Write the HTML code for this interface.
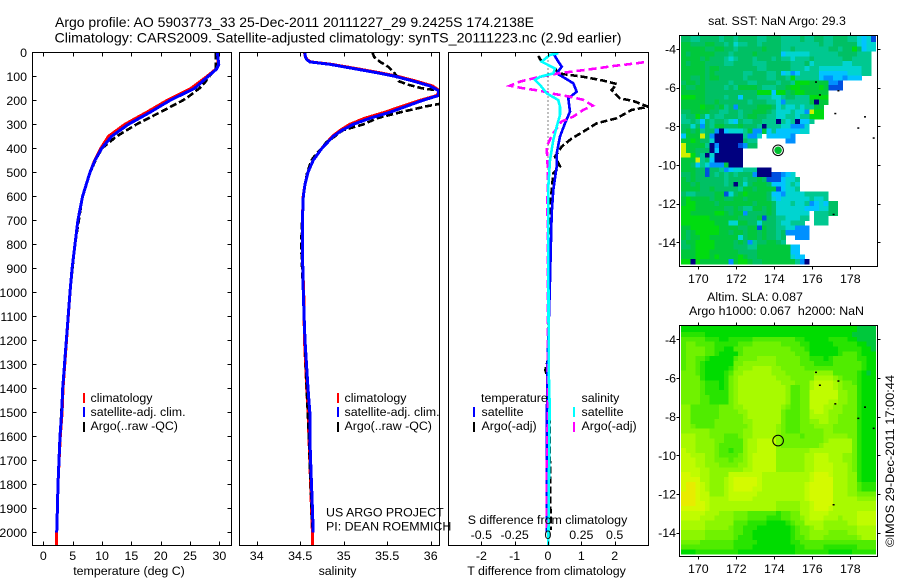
<!DOCTYPE html>
<html>
<head>
<meta charset="utf-8">
<title>Argo profile</title>
<style>
html,body{margin:0;padding:0;background:#fff;}
svg{display:block;}
text{font-family:"Liberation Sans",sans-serif;font-size:12.4px;fill:#000;}
.title{font-size:14px;}
</style>
</head>
<body>
<svg id="chart" width="900" height="580" viewBox="0 0 900 580" xmlns="http://www.w3.org/2000/svg">
<rect width="900" height="580" fill="#fff"/>
<defs>
<clipPath id="clipT"><rect x="32.5" y="52" width="199" height="493.5"/></clipPath>
<clipPath id="clipS"><rect x="239.5" y="52" width="200" height="493.5"/></clipPath>
<clipPath id="clipD"><rect x="448.5" y="52" width="200" height="493.5"/></clipPath>
<clipPath id="clipM1"><rect x="679.5" y="35" width="198" height="232"/></clipPath>
<clipPath id="clipM2"><rect x="679.5" y="325" width="198" height="232"/></clipPath>
</defs>
<text class="title" x="55" y="27" textLength="479" lengthAdjust="spacingAndGlyphs">Argo profile: AO 5903773_33 25-Dec-2011 20111227_29 9.2425S 174.2138E</text>
<text class="title" x="54.5" y="42.5" textLength="567" lengthAdjust="spacingAndGlyphs">Climatology: CARS2009. Satellite-adjusted climatology: synTS_20111223.nc (2.9d earlier)</text>
<g id="layer-maps"></g>
<g id="layer-profiles"></g>
<g id="layer-axes"></g>

<text x="777" y="25" text-anchor="middle">sat. SST: NaN  Argo: 29.3</text>
<text x="755" y="301" text-anchor="middle">Altim. SLA: 0.087</text>
<text x="776.5" y="315" text-anchor="middle" xml:space="preserve">Argo h1000: 0.067  h2000: NaN</text>
<text transform="translate(894,547) rotate(-90)" textLength="172" lengthAdjust="spacingAndGlyphs">©IMOS 29-Dec-2011 17:00:44</text>

<text x="129" y="575" text-anchor="middle">temperature (deg C)</text>
<text x="337.5" y="575" text-anchor="middle">salinity</text>
<text x="546.5" y="575" text-anchor="middle">T difference from climatology</text>
<text x="547.5" y="524" text-anchor="middle">S difference from climatology</text>

<text x="326" y="516.5">US ARGO PROJECT</text>
<text x="326" y="530.5">PI: DEAN ROEMMICH</text>

<g>
<rect x="83" y="393" width="2" height="10" fill="#ff0000"/>
<text x="90.5" y="402">climatology</text>
<rect x="83" y="407" width="2" height="10" fill="#0000ff"/>
<text x="90.5" y="416">satellite-adj. clim.</text>
<rect x="83" y="422" width="2" height="10" fill="#000"/>
<text x="90.5" y="430">Argo(..raw -QC)</text>
</g>
<g>
<rect x="337" y="393" width="2" height="10" fill="#ff0000"/>
<text x="344.5" y="402">climatology</text>
<rect x="337" y="407" width="2" height="10" fill="#0000ff"/>
<text x="344.5" y="416">satellite-adj. clim.</text>
<rect x="337" y="422" width="2" height="10" fill="#000"/>
<text x="344.5" y="430">Argo(..raw -QC)</text>
</g>
<g>
<text x="481" y="402">temperature</text>
<text x="581.5" y="402">salinity</text>
<rect x="473" y="407" width="2" height="10" fill="#0000ff"/>
<text x="481.5" y="416">satellite</text>
<rect x="473" y="422" width="2" height="10" fill="#000"/>
<text x="481.5" y="430">Argo(-adj)</text>
<rect x="573" y="407" width="2" height="10" fill="#00ffff"/>
<text x="581.5" y="416">satellite</text>
<rect x="573" y="422" width="2" height="10" fill="#ff00ff"/>
<text x="581.5" y="430">Argo(-adj)</text>
</g>
</svg>

<script>
// ---------- tick labels ----------
const depthTicks = [0,100,200,300,400,500,600,700,800,900,1000,1100,1200,1300,1400,1500,1600,1700,1800,1900,2000];
const tempTicks = [0,5,10,15,20,25,30];
const salTicks = [34,34.5,35,35.5,36];
const salTickLabels = ["34","34.5","35","35.5","36"];
const dtTicks = [-2,-1,0,1,2];
const dtTickLabels = ["-2","-1","0","1","2"];
const dsTicks = [-0.5,-0.25,0,0.25,0.5];
const dsTickLabels = ["-0.5","-0.25","0","0.25","0.5"];
const lonTicks = [170,172,174,176,178];
const latTicks = [-4,-6,-8,-10,-12,-14];

// ---------- temperature profiles ----------
const tempClimDepth = [0,50,70,100,150,200,250,300,350,400,450,500,600,700,800,900,1000,1400,1500,1600,1700,1800,1900,2000,2054];
const tempClimValues = [29.6,29.8,29.4,27.9,25.2,21.1,17.6,13.9,11.1,9.8,8.75,7.95,6.7,5.9,5.4,4.9,4.55,3.35,3.2,2.9,2.7,2.5,2.4,2.28,2.22];
const tempSatDepth = [0,50,70,100,150,200,250,300,350,400,450,500,600,700,800,900,1000,1400,1500,1600,1700,1800,1900,2000];
const tempSatValues = [29.65,29.9,29.5,28.1,25.8,21.6,18.2,14.5,11.65,9.95,8.8,7.96,6.7,5.9,5.4,4.9,4.55,3.3,3.13,2.84,2.67,2.5,2.4,2.28];
const tempArgoDepth = [0,50,70,100,130,150,180,200,250,300,350,400,450,500,600,800,1000,1400,1600,1800,1980];
const tempArgoValues = [29.4,29.4,29.4,28.3,27.4,26.6,25,23.8,19.9,15.9,12.5,10,8.9,8,6.7,5.4,4.55,3.3,2.84,2.5,2.3];

// ---------- salinity profiles ----------
const salClimDepth = [0,20,30,40,50,70,85,100,120,140,160,180,200,225,250,275,300,325,350,400,450,500,550,600,700,800,900,1000,1100,1200,1400,1500,1600,1700,1800,1900,2000,2054];
const salClimValues = [34.55,34.56,34.58,34.62,34.86,35.18,35.41,35.62,35.83,36.02,36.1,36.07,35.88,35.67,35.47,35.24,35.07,34.96,34.87,34.75,34.65,34.59,34.555,34.535,34.525,34.525,34.53,34.54,34.545,34.55,34.575,34.59,34.6,34.61,34.62,34.63,34.64,34.64];
const salSatDepth = [0,20,30,40,50,70,85,100,120,140,160,180,200,225,250,275,300,325,350,400,450,500,550,600,700,800,900,1000,1100,1200,1400,1500,1600,1700,1800,1900,2000];
const salSatValues = [34.555,34.56,34.575,34.61,34.84,35.15,35.38,35.59,35.8,35.99,36.09,36.09,35.91,35.72,35.53,35.3,35.11,34.98,34.88,34.75,34.65,34.59,34.555,34.536,34.525,34.525,34.53,34.536,34.545,34.555,34.59,34.61,34.61,34.62,34.63,34.64,34.65];
const salArgoDepth = [0,20,40,60,80,100,120,135,150,160,175,200,215,225,250,275,300,325,350,375,400,425,450,500,600,700,800,900,1000,1400,1600,1800,1980];
const salArgoValues = [35.33,35.35,35.42,35.51,35.57,35.61,35.63,35.74,35.9,36.1,36.35,36.35,36.1,35.95,35.65,35.38,35.23,34.99,34.9,34.8,34.75,34.68,34.63,34.58,34.535,34.522,34.512,34.522,34.535,34.575,34.6,34.62,34.64];

// ---------- difference profiles ----------
const dtSatDepth = [4,32,60,88,108,129,164,192,247,296,351,421,476,574,671,782,1000,1324,1500,2000];
const dtSatValues = [0.16,0.28,0.41,0.26,0.51,0.76,0.86,0.61,0.66,0.51,0.36,0.26,0.26,0.16,0.11,0.09,0.05,-0.02,-0.03,-0.03];
const dtArgoDepth = [15,39,67,88,102,118,132,157,192,203,227,240,275,296,331,359,393,435,476,504,574,643,726,1000,1280,1324,1360,1500,1740,1990];
const dtArgoValues = [-0.29,-0.19,0.21,0.31,1.06,1.66,2.06,1.91,2.16,2.56,3.01,2.51,2.06,1.46,1.06,0.71,0.41,0.21,0.36,0.16,0.11,0.06,0.03,0.03,0.0,-0.08,0.0,0.05,0.06,0.08];
const dsSatDepth = [4,11,39,67,88,102,115,136,171,199,227,261,310,365,449,560,782,1324,1463,2054];
const dsSatValues = [0.077,0.015,-0.048,0.052,0.04,-0.06,-0.098,-0.06,-0.01,0.077,0.09,0.09,0.065,0.04,0.015,0.0025,0.0025,0.005,0.012,0.003];
const dsArgoDepth = [36,39,49,57,67,78,88,102,122,139,150,160,173,185,198,222,240,268,289,345,393,504,643,782,1440,1740,1990];
const dsArgoValues = [0.9,0.752,0.615,0.49,0.365,0.215,0.077,-0.06,-0.21,-0.285,-0.185,-0.06,0.04,0.165,0.265,0.335,0.265,0.19,0.1,0.03,-0.01,0,-0.005,0,0,-0.008,-0.008];

// ---------- specks of coastline on both maps (lon, lat) ----------
const coastLon = [176.14,176.35,177.32,177.16,178.72,178.37,179.18,177.07];
const coastLat = [-5.67,-6.34,-6.12,-7.30,-7.47,-8.05,-8.57,-12.52];

// ---------- markers ----------
const profileLon = [174.2];
const profileLat = [-9.24];

// ---------- SST map: colour class per 0.25 degree cell, _ = no data ----------
const _ = null;
const sstRows = [
[6,6,5,5,6,6,6,6,5,6,6,5,6,6,6,6,5,5,6,6,6,5,5,5,5,6,5,5,6,6,5,5,6,6,6,5,5,4,3,4,1],
[6,6,5,5,6,6,6,6,5,6,6,5,6,6,6,6,5,5,6,6,6,5,5,5,5,6,5,5,6,6,5,5,6,6,6,5,5,4,3,4,1],
[7,7,6,6,6,7,7,6,6,5,6,4,5,5,6,6,5,6,6,6,6,5,5,5,5,5,5,5,5,6,5,5,6,6,6,6,6,4,3,4,4],
[7,7,7,7,7,6,6,7,7,6,6,5,6,6,6,6,6,7,6,6,6,5,5,6,5,5,5,5,5,5,5,6,6,5,6,6,8,6,3,4,4],
[7,6,7,7,7,7,7,6,6,6,5,6,6,6,6,7,6,6,6,6,6,3,4,4,4,4,4,5,5,5,5,5,5,6,6,6,6,5,5,5],
[7,7,7,7,6,7,6,6,6,5,4,5,6,6,6,5,6,6,6,5,6,5,5,4,5,5,5,6,5,5,5,5,5,5,6,6,5,5,5,5],
[7,6,7,7,7,6,6,6,6,5,5,6,6,6,6,5,5,5,6,6,6,6,6,5,5,5,6,4,5,5,5,5,5,5,4,4,5,5,5,5],
[7,7,7,7,7,6,7,7,6,6,6,6,6,6,6,6,5,5,6,6,6,6,6,5,5,5,4,5,5,4,4,4,4,4,4,4,4,4,5,5],
[7,7,7,7,7,6,7,6,6,6,6,6,6,5,5,6,6,6,5,5,6,3,4,2,3,5,5,5,5,3,3,3,3,3,3,4,4,4,5,5],
[7,7,6,6,7,6,7,7,6,6,6,6,6,5,6,6,6,6,5,5,6,6,5,8,5,5,5,5,5,3,2,2,3,3,2,3,3,3],
[6,7,7,6,7,6,6,6,6,6,5,6,6,6,5,5,6,6,6,6,5,6,6,5,8,8,8,7,7,7,7,2,2,1],
[7,6,6,7,7,6,6,6,6,5,6,5,7,7,7,7,6,5,5,5,6,6,7,8,8,7,7,7,7,8,7,1,1,1],
[7,7,7,7,7,6,6,6,6,6,6,6,6,6,6,6,8,8,8,3,8,8,6,7,8,8,7,7,7,7,7],
[8,8,8,7,7,6,6,6,6,5,6,6,3,6,6,6,5,5,5,4,4,5,6,6,5,5,5,8,8,8,8],
[7,7,7,7,7,6,6,7,6,6,6,6,6,6,5,6,6,6,5,5,4,2,5,5,5,5,5,7,0,7,7],
[7,7,7,7,8,7,7,6,7,5,6,2,6,6,6,6,7,7,7,6,4,5,4,4,5,4,5,5,7,7],
[6,6,7,7,7,7,6,6,5,5,6,6,5,6,6,7,7,7,6,5,4,4,4,5,4,4,2,9,8,8],
[5,6,6,8,6,4,6,5,5,6,6,6,5,6,7,7,6,6,5,5,4,4,5,5,4,5,5,8,8,8],
[5,5,6,5,3,6,5,6,6,5,4,3,6,5,5,6,6,5,5,5,0,5,4,5,0,3,3,5],
[6,6,4,6,2,6,5,7,7,6,6,6,7,6,6,6,5,0,5,5,5,4,4,2,2,2,4],
[6,7,6,7,5,6,6,2,0,3,4,4,4,5,7,2,2,7,3,5,3,3,3,3,3,4,4],
[3,7,7,7,9,6,2,0,0,0,0,0,0,5,2,2,4,_,3,3,3,3,3,2],
[7,7,8,7,6,6,4,0,0,0,0,0,0,6,5,5,_,_,_,_,_,_,2,2],
[9,7,7,7,7,5,0,2,0,0,0,0,1,2,6,6],
[9,7,7,6,6,6,0,3,0,0,0,0,0],
[9,9,8,6,5,0,4,0,0,0,0,0,0],
[7,7,7,9,5,6,3,0,0,0,0,0,0],
[7,7,6,3,5,4,2,2,2,7,0,0,0],
[7,7,7,6,6,1,6,6,5,2,3,4,4,5,5,5,0,0,0],
[6,6,7,6,6,1,6,5,6,5,6,5,6,6,6,2,0,0,0,1,1,2,3,4],
[7,6,7,6,6,6,6,6,6,5,6,6,6,5,6,6,7,6,1,1,1,3,4,4,5],
[7,7,6,7,6,6,6,6,6,5,6,0,6,4,6,7,7,7,6,3,3,3,4,5,4],
[7,7,7,7,6,6,7,6,6,6,6,6,5,7,7,6,7,7,7,7,1,3,4,4,5],
[6,5,5,6,6,6,6,7,7,1,4,6,7,8,7,7,7,7,6,3,3,2,4,4,4,4,5,5,5,5,5],
[7,8,7,7,7,7,6,7,7,6,6,7,7,6,7,7,7,7,6,4,3,4,4,4,4,4,4,5,4,4,5],
[7,8,8,7,7,7,7,6,7,7,7,7,7,7,7,6,7,7,7,6,4,4,4,5,4,4,5,2,3,4,3,6,6],
[8,8,8,7,7,7,7,7,7,6,6,7,6,5,5,7,7,6,7,6,4,4,4,4,4,4,3,3,3,4,4,6,6],
[8,8,7,7,7,7,7,8,8,7,6,7,7,2,6,6,6,6,7,6,4,4,4,4,4,4,4,_,5,5,5,6,6],
[8,8,8,8,8,8,7,7,7,7,7,7,6,6,6,6,7,1,6,6,5,5,4,4,4,5,5,_,5,5,5],
[8,8,8,8,8,8,8,7,7,7,4,4,7,7,6,6,4,6,6,6,5,4,4,5,5,5,_,_,5,5,5],
[7,7,8,8,8,8,8,8,7,7,7,7,6,6,7,7,1,7,6,6,5,5,4,4,2,2,2],
[7,6,7,8,8,8,8,8,7,7,6,7,7,6,7,7,6,7,6,6,5,6,2,2,2,2,2],
[7,6,7,7,8,8,7,7,7,7,7,7,4,6,7,7,6,7,6,6,5,6,_,_,2,2,2],
[6,7,7,8,8,8,8,7,7,7,7,6,7,6,2,5,6,6,7,7,6,5],
[6,6,7,8,8,8,8,7,7,7,7,6,6,6,5,5,7,7,7,7,7,7,7,3,3],
[7,7,7,8,8,8,7,7,7,7,7,7,6,6,6,6,7,7,7,7,7,7,7,3,3],
[7,7,7,8,8,8,7,8,7,7,7,7,8,7,6,6,7,7,7,7,7,7,7,4,3,3],
[8,8,0,8,7,7,7,7,7,7,2,7,8,8,7,6,6,7,7,7,7,7,7,7,5,2,0]
];

// ---------- sea level anomaly map: colour class per 0.25 degree cell ----------
const slaRows = [
[1,1,1,1,1,1,1,1,1,1,1,1,1,1,1,1,1,1,1,1,1,1,1,1,1,1,1,1,1,1,1,1,1,1,1,1,1,0,0,0,0],
[1,1,1,1,1,1,1,1,1,1,1,1,1,1,1,1,1,1,1,1,1,1,1,1,1,1,1,1,1,1,1,1,1,1,1,1,1,0,0,0,0],
[2,2,2,2,2,1,1,1,1,1,1,1,1,1,1,1,1,1,1,1,1,1,1,1,1,1,1,1,1,1,1,1,1,1,1,1,0,0,0,0,0],
[3,3,3,3,3,2,2,2,1,1,2,2,2,2,2,3,3,3,3,3,3,3,3,3,2,2,1,1,1,1,1,2,2,2,2,1,1,0,0,0,0],
[3,4,4,3,3,3,3,2,2,2,2,2,3,3,3,4,4,4,4,4,4,3,3,3,3,2,2,1,1,1,1,1,2,2,2,2,2,1,1,0,0],
[3,4,4,4,4,3,3,2,2,1,1,3,3,4,4,4,4,4,4,4,4,4,4,3,3,3,2,1,1,1,1,1,1,2,2,2,2,2,1,1,0],
[3,4,4,4,4,3,3,2,1,1,1,1,3,4,4,4,4,4,4,4,4,4,4,4,3,3,3,1,1,1,1,1,1,2,3,3,3,2,1,1,1],
[3,4,4,3,3,2,1,1,1,1,1,3,4,4,4,4,5,5,5,5,4,4,4,4,4,3,3,2,2,2,1,2,3,3,3,3,3,2,2,1,1],
[3,4,4,3,2,1,1,1,1,1,1,4,4,5,5,5,5,5,5,5,4,4,4,4,4,3,3,3,2,2,2,2,3,3,3,3,3,3,2,1,1],
[3,4,4,3,2,1,1,1,1,1,2,4,5,5,5,6,6,6,6,5,5,4,4,4,4,4,3,3,3,3,3,3,3,3,3,3,3,3,2,1,1],
[4,4,4,3,2,1,1,1,1,2,3,5,5,6,6,6,6,6,6,5,5,5,4,4,4,4,4,4,5,5,5,5,3,3,3,3,3,2,1,0,1],
[4,4,4,4,2,1,1,1,1,2,4,5,6,6,6,6,6,6,6,6,5,5,5,4,4,4,4,4,6,6,6,6,5,4,3,3,3,2,1,1,1],
[4,4,4,4,3,2,2,2,1,2,4,5,6,6,6,6,6,6,6,6,6,5,5,5,4,4,4,6,7,7,7,7,6,5,4,4,3,2,1,1,1],
[4,4,4,4,3,2,2,2,1,2,4,5,6,6,6,6,6,6,6,6,6,6,5,3,3,4,4,6,7,7,7,7,6,5,4,4,4,2,1,1,1],
[4,4,4,4,3,2,2,2,2,2,4,5,6,6,6,6,6,6,6,6,6,6,5,3,3,4,4,7,7,7,7,7,7,5,5,4,4,2,1,1,1],
[4,4,4,4,3,3,2,2,2,2,4,5,6,6,6,6,6,6,6,6,6,6,5,3,3,4,4,7,7,7,7,7,7,5,5,4,4,2,1,1,1],
[4,4,4,4,3,3,2,2,2,2,4,5,6,6,6,6,6,6,6,6,6,6,5,3,3,4,4,7,7,7,7,6,6,5,5,4,4,2,1,1,1],
[5,5,3,3,3,3,3,3,4,4,4,5,5,6,6,6,6,6,6,6,6,5,4,3,3,4,4,7,7,7,6,6,5,5,4,4,4,2,1,1,1],
[5,5,3,3,3,3,3,3,4,4,4,4,5,5,6,6,6,6,6,6,6,4,3,3,3,4,4,6,7,7,6,5,5,5,4,4,4,2,1,1,1],
[5,5,3,3,3,3,3,3,4,4,4,4,4,5,6,6,6,6,6,6,6,4,3,3,3,4,4,6,6,6,6,5,5,4,4,4,4,2,1,1,1],
[5,5,3,3,3,3,3,4,4,4,4,4,4,5,5,6,6,6,6,6,6,4,3,3,3,4,4,5,5,6,6,5,5,4,4,4,4,2,1,1,1],
[5,5,4,3,3,3,3,4,4,4,4,4,4,4,5,6,6,6,6,6,5,4,3,3,3,4,4,4,5,5,5,5,4,4,4,4,4,2,1,1,1],
[5,5,5,5,5,5,4,4,4,4,4,4,4,5,5,6,6,6,6,6,5,4,3,3,3,4,4,4,4,4,5,5,4,4,4,4,4,2,1,1,1],
[6,6,6,5,5,5,4,4,4,3,3,3,4,5,5,6,6,6,6,6,5,4,4,4,4,3,4,4,4,4,5,5,5,5,5,4,4,2,1,1,1],
[6,6,6,5,5,5,5,4,4,3,3,3,3,5,6,6,7,7,7,7,5,4,4,4,4,4,4,4,4,4,5,6,6,6,6,6,4,2,1,1,1],
[6,6,6,5,5,5,5,4,3,3,3,3,3,5,6,6,7,7,7,7,5,4,4,4,4,4,4,4,4,5,6,6,6,6,6,6,4,2,1,1,1],
[7,6,6,5,5,5,5,4,3,3,2,3,3,5,6,6,7,7,7,7,5,5,5,5,5,5,5,6,6,6,6,6,6,6,6,6,4,2,1,1,1],
[7,7,6,6,6,5,5,4,3,3,3,3,4,5,6,7,7,7,7,7,5,5,5,5,5,5,6,6,7,7,7,6,6,6,5,5,4,2,1,1,1],
[7,7,7,6,6,5,5,4,4,4,3,4,4,5,6,7,7,7,7,7,5,5,5,5,5,5,6,6,7,7,7,6,6,6,5,5,4,2,1,1,1],
[7,7,7,6,6,5,5,5,4,4,4,4,5,5,6,7,7,7,7,7,5,5,5,5,5,5,6,6,7,7,7,7,6,6,6,5,4,2,1,1,1],
[7,7,7,7,6,6,5,5,5,5,5,5,5,6,6,7,7,7,7,7,5,5,5,5,5,5,6,6,7,7,7,7,6,6,6,5,4,2,1,1,1],
[8,8,7,7,6,6,5,5,5,5,7,7,7,7,7,7,7,6,6,6,6,6,6,6,6,6,6,7,8,8,8,7,6,6,6,5,5,2,1,1,1],
[8,8,8,8,6,6,5,5,5,6,7,8,8,8,8,8,7,6,6,6,6,6,6,6,6,6,6,7,8,8,8,8,6,6,6,5,5,2,1,1,1],
[8,9,9,8,7,6,5,5,5,6,7,8,8,8,8,8,7,6,6,6,6,6,6,6,6,6,7,8,8,8,8,8,6,6,6,5,5,3,2,2,2],
[8,9,9,8,7,6,5,5,5,6,7,8,8,8,8,7,7,6,6,6,6,6,6,6,6,6,7,8,8,8,8,8,6,6,6,5,5,3,2,2,2],
[9,9,9,8,7,7,5,5,5,6,7,7,7,7,7,7,6,6,6,6,6,6,6,6,6,6,7,8,8,8,8,8,6,6,6,5,5,4,4,4,4],
[9,9,9,8,7,7,6,6,6,6,7,7,7,7,7,6,6,6,6,6,6,6,6,6,6,6,7,8,8,8,8,8,6,6,6,6,6,5,5,5,5],
[9,9,9,8,8,7,6,6,6,6,6,6,6,6,6,6,6,6,6,6,5,5,5,5,5,6,6,7,8,8,8,8,6,6,6,6,6,6,6,6,6],
[8,8,8,8,8,7,6,6,6,6,6,6,6,6,6,6,6,6,6,6,5,5,5,5,5,6,6,7,8,8,8,7,6,6,6,6,6,6,6,6,6],
[7,7,7,7,7,6,6,6,5,5,5,4,4,4,3,3,3,3,3,3,2,3,3,4,4,6,6,7,7,7,7,6,6,6,6,6,6,7,7,7,7],
[7,7,7,7,6,6,6,5,5,5,5,4,4,4,3,3,3,3,2,2,2,3,3,4,4,5,6,7,7,7,6,6,6,5,6,6,6,7,7,7,7],
[6,6,6,6,6,5,5,5,5,5,5,3,3,3,2,2,2,2,1,1,1,1,2,3,4,4,6,6,6,6,5,5,5,5,5,6,6,7,7,7,7],
[6,6,6,6,6,5,5,5,5,5,4,3,3,2,2,2,1,1,1,1,1,1,1,2,3,4,4,5,6,6,5,5,5,5,5,5,5,6,6,6,6],
[5,5,5,5,5,4,4,4,4,4,4,3,3,2,2,1,1,1,1,1,1,1,1,2,3,4,4,5,5,5,5,4,4,4,4,5,5,6,6,6,6],
[5,5,5,5,5,4,4,4,4,4,4,3,2,2,2,1,1,1,1,1,1,1,1,2,3,3,4,5,5,5,4,4,4,4,4,4,4,5,6,6,6],
[4,4,4,4,3,3,3,3,3,3,3,2,2,2,2,2,1,1,1,1,1,1,1,2,2,3,3,3,3,3,3,3,3,3,3,3,3,3,3,3,3],
[3,3,3,3,3,3,3,3,3,3,3,2,2,2,2,1,1,1,1,1,1,1,1,1,2,2,3,3,3,3,2,2,2,2,2,2,2,3,3,3,3],
[1,1,1,2,2,2,2,2,2,2,2,2,1,1,1,1,1,1,1,1,1,1,1,1,2,2,2,2,2,2,2,1,1,1,1,1,2,2,2,2,2]
];

// ---------- colour classes ----------
const sstPalette = ["#00007f","#0050e0","#0090ff","#00c4ff","#00d4d0","#00c890","#00c064","#00c83c","#00dc10","#d0f000"];
const slaPalette = ["#00c83c","#00dc00","#28e400","#50ec00","#70f200","#8cf600","#a8fa00","#c0fc00","#d4fa00","#e8ec00"];

// ---------- axis functions ----------
const depthY = d => 52.3 + 0.24 * d;
const tempX = t => 43.3 + 5.87 * t;
const salX = s => 256.7 + 87 * (s - 34);
const dtX = v => 548 + 33.33 * v;
const dsX = v => 548 + 133.33 * v;
const lonX = lon => 698.3 + 19 * (lon - 170);
const latY1 = lat => 49 + 19.33 * (-4 - lat);
const latY2 = lat => 339.3 + 19.33 * (-4 - lat);

const NS = "http://www.w3.org/2000/svg";
const layerMaps = document.getElementById("layer-maps");
const layerProfiles = document.getElementById("layer-profiles");
const layerAxes = document.getElementById("layer-axes");

function svgEl(tag, parent, name) {
  const el = document.createElementNS(NS, tag);
  
  
  parent.appendChild(el);
  return el;
}

function drawLine(parent, name, depths, values, xFn, color, width, dash) {
  const el = svgEl("polyline", parent, name);
  el.setAttribute("points", depths.map((d, i) => xFn(values[i]).toFixed(1) + "," + depthY(d).toFixed(1)).join(" "));
  el.setAttribute("fill", "none");
  el.setAttribute("stroke", color);
  el.setAttribute("stroke-width", width);
  el.setAttribute("shape-rendering", "crispEdges");
  if (dash) el.setAttribute("stroke-dasharray", dash);
}

function hLine(parent, name, x1, y1, x2, y2, color) {
  const el = svgEl("line", parent, name);
  el.setAttribute("x1", x1);
  el.setAttribute("y1", y1);
  el.setAttribute("x2", x2);
  el.setAttribute("y2", y2);
  el.setAttribute("stroke", color || "#000");
  el.setAttribute("stroke-width", 1);
  el.setAttribute("shape-rendering", "crispEdges");
  return el;
}

function label(parent, name, x, y, str, anchor) {
  const el = svgEl("text", parent, name);
  el.setAttribute("x", x);
  el.setAttribute("y", y);
  el.setAttribute("text-anchor", anchor || "middle");
  el.textContent = str;
}

function frame(parent, name, x, y, w, h) {
  const el = svgEl("rect", parent, name);
  el.setAttribute("x", x);
  el.setAttribute("y", y);
  el.setAttribute("width", w);
  el.setAttribute("height", h);
  el.setAttribute("fill", "none");
  el.setAttribute("stroke", "#000");
  el.setAttribute("stroke-width", 1);
  el.setAttribute("shape-rendering", "crispEdges");
}

// ---------- profile panels ----------
const tempGroup = svgEl("g", layerProfiles, "temperature-series");
tempGroup.setAttribute("clip-path", "url(#clipT)");
drawLine(tempGroup, "temperature-climatology-line", tempClimDepth, tempClimValues, tempX, "#ff0000", 3);
drawLine(tempGroup, "temperature-argo-line", tempArgoDepth, tempArgoValues, tempX, "#000000", 2.6, "7 3");
drawLine(tempGroup, "temperature-satellite-line", tempSatDepth, tempSatValues, tempX, "#0000ff", 3);

const salGroup = svgEl("g", layerProfiles, "salinity-series");
salGroup.setAttribute("clip-path", "url(#clipS)");
drawLine(salGroup, "salinity-climatology-line", salClimDepth, salClimValues, salX, "#ff0000", 3);
drawLine(salGroup, "salinity-argo-line", salArgoDepth, salArgoValues, salX, "#000000", 2.6, "7 3");
drawLine(salGroup, "salinity-satellite-line", salSatDepth, salSatValues, salX, "#0000ff", 3);

const diffGroup = svgEl("g", layerProfiles, "difference-series");
diffGroup.setAttribute("clip-path", "url(#clipD)");
const zeroLine = hLine(diffGroup, "zero-difference-line", dtX(0), depthY(0), dtX(0), depthY(2054));
zeroLine.setAttribute("stroke-dasharray", "1 3");
drawLine(diffGroup, "t-difference-argo-line", dtArgoDepth, dtArgoValues, dtX, "#000000", 2.6, "7 3");
drawLine(diffGroup, "t-difference-satellite-line", dtSatDepth, dtSatValues, dtX, "#0000ff", 2.6);
drawLine(diffGroup, "s-difference-argo-line", dsArgoDepth, dsArgoValues, dsX, "#ff00ff", 2.6, "8 4");
drawLine(diffGroup, "s-difference-satellite-line", dsSatDepth, dsSatValues, dsX, "#00ffff", 2.6);

// ---------- profile frames and ticks ----------
const panelLeft = [32.5, 239.5, 448.5];
const panelRight = [231.5, 439.5, 648.5];
const panelTop = 52.5;
const panelBottom = 545.5;
panelLeft.forEach((l, i) => {
  frame(layerAxes, "panel-frame-" + (i + 1), l, panelTop, panelRight[i] - l, panelBottom - panelTop);
});
depthTicks.forEach(d => {
  const y = Math.round(depthY(d)) + 0.5;
  hLine(layerAxes, "depth-tick-left", panelLeft[0], y, panelLeft[0] + 4, y);
  hLine(layerAxes, "depth-tick-right", panelRight[0] - 4, y, panelRight[0], y);
  label(layerAxes, "depth-tick-label", 27, depthY(d) + 4.5, String(d), "end");
});
function xTicks(values, labels, xFn, prefix) {
  values.forEach((v, i) => {
    const x = Math.round(xFn(v)) + 0.5;
    hLine(layerAxes, prefix + "-tick-top", x, panelTop, x, panelTop + 4);
    hLine(layerAxes, prefix + "-tick-bottom", x, panelBottom - 4, x, panelBottom);
    label(layerAxes, prefix + "-tick-label", xFn(v), 560, labels[i]);
  });
}
xTicks(tempTicks, tempTicks.map(String), tempX, "temperature");
xTicks(salTicks, salTickLabels, salX, "salinity");
xTicks(dtTicks, dtTickLabels, dtX, "t-difference");
dsTicks.forEach((v, i) => {
  label(layerAxes, "s-difference-tick-label", dsX(v), 539, dsTickLabels[i]);
});

// ---------- maps ----------
const mapLonStart = 169.09;
const mapLatStart = -3.125;
const cellDeg = 0.25;

function drawGrid(rows, palette, latY, clipId, name) {
  const g = svgEl("g", layerMaps, name);
  g.setAttribute("clip-path", "url(#" + clipId + ")");
  g.setAttribute("shape-rendering", "crispEdges");
  rows.forEach((row, r) => {
    row.forEach((v, c) => {
      if (v === null) return;
      const rect = document.createElementNS(NS, "rect");
      
      
      const x0 = lonX(mapLonStart + c * cellDeg), x1 = lonX(mapLonStart + (c + 1) * cellDeg);
      const y0 = latY(mapLatStart - r * cellDeg), y1 = latY(mapLatStart - (r + 1) * cellDeg);
      rect.setAttribute("x", x0.toFixed(2));
      rect.setAttribute("y", y0.toFixed(2));
      rect.setAttribute("width", (x1 - x0 + 0.3).toFixed(2));
      rect.setAttribute("height", (y1 - y0 + 0.3).toFixed(2));
      rect.setAttribute("fill", palette[v]);
      g.appendChild(rect);
    });
  });
}

drawGrid(sstRows, sstPalette, latY1, "clipM1", "sst-heatmap");
drawGrid(slaRows, slaPalette, latY2, "clipM2", "sla-heatmap");

function mapAxes(latY, top, bottom, tickLabelY, prefix) {
  const left = 679.5, right = 877.5;
  coastLon.forEach((lon, i) => {
    const s = svgEl("rect", layerMaps, prefix + "-coastline-speck");
    s.setAttribute("x", lonX(lon).toFixed(1));
    s.setAttribute("y", latY(coastLat[i]).toFixed(1));
    s.setAttribute("width", 2);
    s.setAttribute("height", 1.5);
    s.setAttribute("fill", "#000");
  });
  frame(layerAxes, prefix + "-frame", left, top, right - left, bottom - top);
  lonTicks.forEach(lon => {
    const x = Math.round(lonX(lon)) + 0.5;
    hLine(layerAxes, prefix + "-lon-tick-top", x, top - 3, x, top);
    hLine(layerAxes, prefix + "-lon-tick-bottom", x, bottom, x, bottom + 3);
    label(layerAxes, prefix + "-lon-tick-label", lonX(lon), tickLabelY, String(lon));
  });
  latTicks.forEach(lat => {
    const y = Math.round(latY(lat)) + 0.5;
    hLine(layerAxes, prefix + "-lat-tick-left", left - 3, y, left, y);
    hLine(layerAxes, prefix + "-lat-tick-right", right, y, right + 3, y);
    label(layerAxes, prefix + "-lat-tick-label", 676, latY(lat) + 4.5, String(lat), "end");
  });
}
mapAxes(latY1, 35.5, 266.5, 283, "sst-map");
mapAxes(latY2, 325.5, 556.5, 573, "sla-map");

// profile position markers
const sstHalo = svgEl("circle", layerAxes, "profile-marker-sst-outline");
sstHalo.setAttribute("cx", lonX(profileLon[0]));
sstHalo.setAttribute("cy", latY1(profileLat[0]));
sstHalo.setAttribute("r", 5.3);
sstHalo.setAttribute("fill", "#fff");
sstHalo.setAttribute("stroke", "#000");
sstHalo.setAttribute("stroke-width", 1);
const sstDot = svgEl("circle", layerAxes, "profile-marker-sst");
sstDot.setAttribute("cx", lonX(profileLon[0]));
sstDot.setAttribute("cy", latY1(profileLat[0]));
sstDot.setAttribute("r", 3.8);
sstDot.setAttribute("fill", "#00c030");
const slaRing = svgEl("circle", layerAxes, "profile-marker-sla");
slaRing.setAttribute("cx", lonX(profileLon[0]));
slaRing.setAttribute("cy", latY2(profileLat[0]));
slaRing.setAttribute("r", 5.3);
slaRing.setAttribute("fill", "none");
slaRing.setAttribute("stroke", "#000");
slaRing.setAttribute("stroke-width", 1);
</script>
</body>
</html>
